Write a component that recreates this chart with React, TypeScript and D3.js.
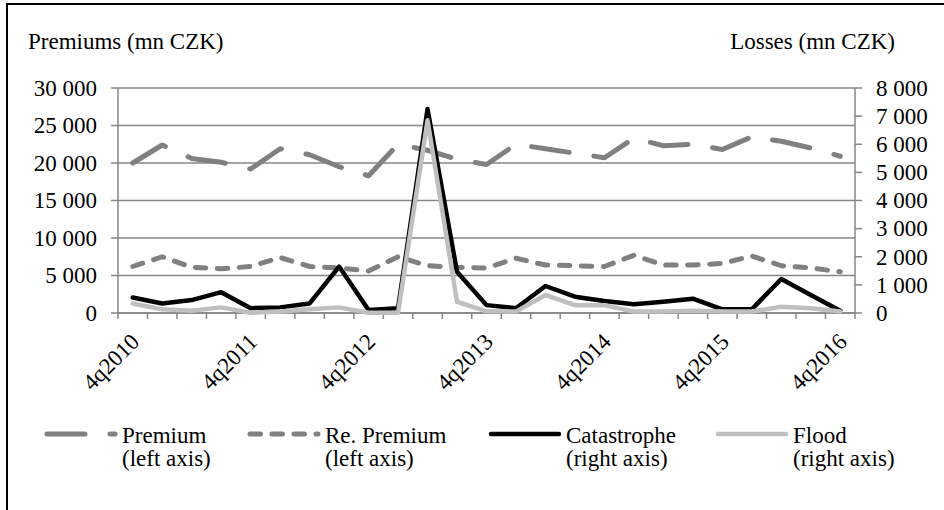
import React from 'react';
import * as d3 from 'd3';

const categories = [
  '4q2010', '1q2011', '2q2011', '3q2011', '4q2011', '1q2012', '2q2012', '3q2012', '4q2012',
  '1q2013', '2q2013', '3q2013', '4q2013', '1q2014', '2q2014', '3q2014', '4q2014',
  '1q2015', '2q2015', '3q2015', '4q2015', '1q2016', '2q2016', '3q2016', '4q2016',
];
const shownLabels = ['4q2010', '4q2011', '4q2012', '4q2013', '4q2014', '4q2015', '4q2016'];

// left axis (mn CZK)
const premium = [20000, 22400, 20600, 20100, 19200, 21900, 21100, 19500, 18300, 22500, 21700, 20500, 19800,
  22500, 21900, 21300, 20700, 23300, 22300, 22500, 21800, 23500, 22900, 22000, 20900];
const rePremium = [6200, 7500, 6100, 5900, 6200, 7400, 6200, 6000, 5600, 7500, 6300, 6100, 6000,
  7300, 6400, 6300, 6200, 7700, 6400, 6400, 6600, 7600, 6300, 6000, 5500];
// right axis (mn CZK)
const catastrophe = [550, 340, 460, 740, 170, 200, 340, 1650, 110, 170, 7250, 1470, 280,
  170, 960, 580, 430, 310, 400, 510, 130, 130, 1210, 640, 80];
const flood = [340, 130, 80, 200, 10, 50, 130, 200, 10, 10, 6850, 400, 60,
  50, 640, 280, 280, 50, 50, 80, 50, 50, 220, 170, 50];

const leftTicks = [0, 5000, 10000, 15000, 20000, 25000, 30000];
const rightTicks = [0, 1000, 2000, 3000, 4000, 5000, 6000, 7000, 8000];

const fmt = (v: number) => d3.format(',')(v).replace(/,/g, ' ');

const FONT = 'Liberation Serif';
const FS = 23;
const GRID = '#868686';

const T: React.FC<React.SVGProps<SVGTextElement>> = ({ children, ...rest }) => (
  <text fontFamily={FONT} fontSize={FS} fill="#000" {...rest}>{children}</text>
);

const App: React.FC = () => {
  const W = 944, H = 510;
  const left = 118, right = 855, top = 88, bottom = 313;

  const x = d3.scaleBand<string>().domain(categories).range([left, right]);
  const cx = (c: string) => (x(c) as number) + x.bandwidth() / 2;
  const yL = d3.scaleLinear().domain([0, 30000]).range([bottom, top]);
  const yR = d3.scaleLinear().domain([0, 8000]).range([bottom, top]);

  const lineL = d3.line<number>().x((_, i) => cx(categories[i])).y(d => yL(d));
  const lineR = d3.line<number>().x((_, i) => cx(categories[i])).y(d => yR(d));

  const series = [
    { name: 'Premium', data: premium, line: lineL, color: '#808080', width: 5, dash: '38 25', axis: '(left axis)' },
    { name: 'Re. Premium', data: rePremium, line: lineL, color: '#808080', width: 5, dash: '10.5 11.5', axis: '(left axis)' },
    { name: 'Catastrophe', data: catastrophe, line: lineR, color: '#000000', width: 4.5, dash: undefined, axis: '(right axis)' },
    { name: 'Flood', data: flood, line: lineR, color: '#bfbfbf', width: 4.5, dash: undefined, axis: '(right axis)' },
  ];
  const legendX = [45, 248, 489, 716];

  const boundaries = categories.map(c => x(c) as number).concat([right]);

  return (
    <svg width={W} height={H} style={{ position: 'absolute', left: 0, top: 0, background: '#fff' }}>
      <rect x={7} y={4} width={1000} height={1000} fill="none" stroke="#000" strokeWidth={2} />

      <T x={28} y={49}>Premiums (mn CZK)</T>
      <T x={895} y={49} textAnchor="end">Losses (mn CZK)</T>

      {/* gridlines + left axis */}
      {leftTicks.map(t => (
        <g key={'l' + t}>
          <line x1={left} x2={right} y1={yL(t)} y2={yL(t)} stroke={GRID} strokeWidth={1.5} />
          <line x1={left - 7} x2={left} y1={yL(t)} y2={yL(t)} stroke={GRID} strokeWidth={1.5} />
          <T x={97} y={yL(t)} dy="0.34em" textAnchor="end">{fmt(t)}</T>
        </g>
      ))}
      {rightTicks.map(t => (
        <g key={'r' + t}>
          <line x1={right} x2={right + 7} y1={yR(t)} y2={yR(t)} stroke={GRID} strokeWidth={1.5} />
          <T x={876} y={yR(t)} dy="0.34em">{fmt(t)}</T>
        </g>
      ))}
      <line x1={left} x2={left} y1={top} y2={bottom} stroke={GRID} strokeWidth={1.5} />
      <line x1={right} x2={right} y1={top} y2={bottom} stroke={GRID} strokeWidth={1.5} />
      <line x1={left} x2={right} y1={bottom} y2={bottom} stroke={GRID} strokeWidth={1.5} />
      {boundaries.map((b, i) => (
        <line key={'xt' + i} x1={b} x2={b} y1={bottom} y2={bottom + 6} stroke={GRID} strokeWidth={1.5} />
      ))}
      {shownLabels.map(c => (
        <T key={c} transform={`translate(${cx(c) + 8},${343}) rotate(-45)`} textAnchor="end">{c}</T>
      ))}

      {series.map(s => (
        <path key={s.name} d={s.line(s.data) || ''} fill="none" stroke={s.color} strokeWidth={s.width}
          strokeDasharray={s.dash} strokeLinecap="round" strokeLinejoin="round" />
      ))}

      {series.map((s, i) => (
        <g key={'lg' + s.name}>
          <line x1={legendX[i] + 2} x2={legendX[i] + 70} y1={434} y2={434} stroke={s.color}
            strokeWidth={s.width} strokeDasharray={s.dash} strokeLinecap="round" />
          <T x={legendX[i] + 77} y={443}>{s.name}</T>
          <T x={legendX[i] + 77} y={466}>{s.axis}</T>
        </g>
      ))}
    </svg>
  );
};

export default App;
